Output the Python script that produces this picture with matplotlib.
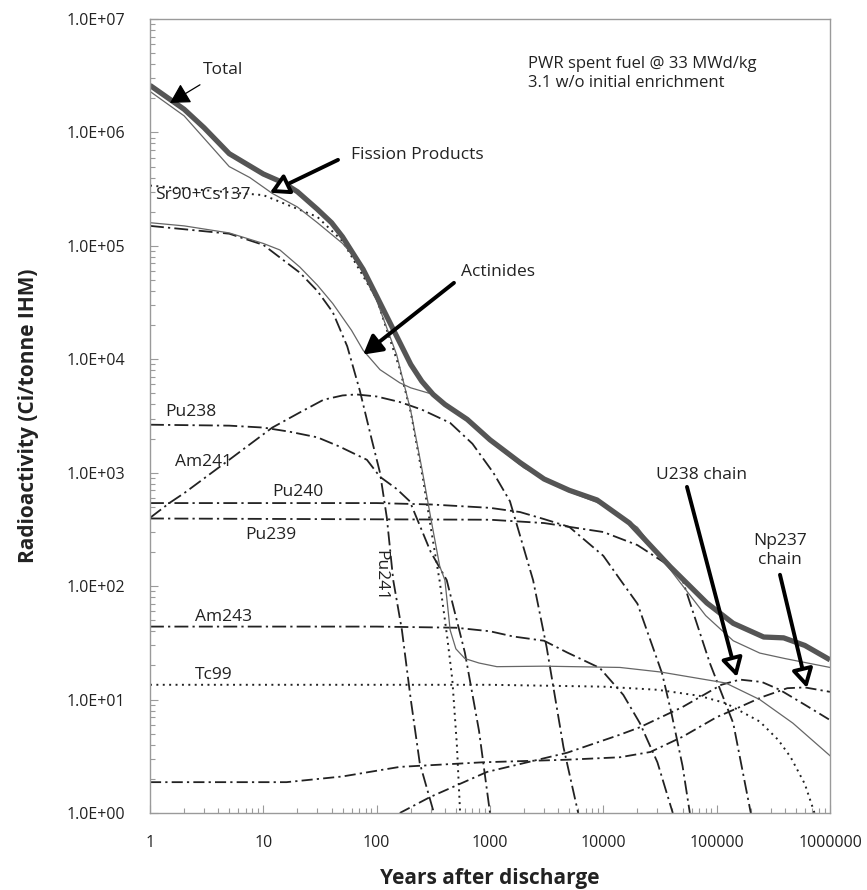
import matplotlib
matplotlib.use("Agg")
import matplotlib.pyplot as plt
from matplotlib.ticker import LogLocator, FixedLocator, FixedFormatter, NullFormatter

plt.rcParams['font.family'] = ['Open Sans', 'DejaVu Sans']
plt.rcParams['lines.scale_dashes'] = False

# ---------------- data (years, Ci/tonne IHM) ----------------
total_x = [1, 2, 3, 5, 10, 15, 20, 30, 40, 50, 76, 100, 150, 200, 250, 315, 400, 630,
           1000, 1840, 3000, 5000, 8800, 1.7e4, 3.9e4, 8.2e4, 1.4e5, 2.6e5, 3.9e5, 6e5, 1e6]
total_y = [2.6e6, 1.6e6, 1.1e6, 6.5e5, 4.3e5, 3.6e5, 3.0e5, 2.1e5, 1.6e5, 1.2e5, 6.2e4, 3.6e4,
           1.6e4, 9.0e3, 6.4e3, 4.9e3, 4.0e3, 2.95e3, 1.95e3, 1.23e3, 880, 700, 575, 360, 148, 71,
           47, 35.6, 35, 30, 22.4]

fp_x = [1, 2, 5, 7.6, 12, 20, 30, 50, 67, 100, 150, 200, 250, 300, 360, 400, 445, 500, 600,
        800, 1150, 3000, 1.4e4, 3.2e4, 1.2e5, 2.4e5, 4.7e5, 1e6]
fp_y = [2.3e6, 1.4e6, 5.0e5, 4.0e5, 2.9e5, 2.2e5, 1.6e5, 1.05e5, 7.5e4, 3.3e4, 1.1e4, 3.5e3,
        1.1e3, 400, 150, 113, 41, 28, 23, 21, 19.5, 19.7, 19.2, 17.5, 14, 10, 6.2, 3.2]

act_x = [1, 2, 5, 10, 14, 21, 30, 41, 60, 76, 107, 160, 200, 315, 630, 1000, 2000, 5000,
         1e4, 2e4, 4e4, 8e4, 1.4e5, 2.4e5, 4e5, 1e6]
act_y = [1.6e5, 1.5e5, 1.3e5, 1.05e5, 9.2e4, 6.5e4, 4.5e4, 3.1e4, 1.8e4, 1.2e4, 8.1e3, 6.2e3,
         5.6e3, 4.9e3, 2.9e3, 1.9e3, 1.1e3, 680, 520, 330, 135, 55, 33, 25.7, 23, 19.2]

srcs_x = [1, 10, 30, 50, 100, 160, 200, 257, 300, 360, 420, 465, 510, 545]
srcs_y = [3.4e5, 2.8e5, 1.8e5, 1.1e5, 3.4e4, 8.2e3, 3.4e3, 870, 330, 110, 35, 15, 4, 1.0]

pu241_x = [1, 5, 10, 21, 30, 41, 55, 71, 90, 107, 123, 140, 167, 200, 240, 320]
pu241_y = [1.5e5, 1.28e5, 1.02e5, 5.8e4, 4.0e4, 2.6e4, 1.3e4, 5.3e3, 2.0e3, 1.0e3, 400, 113,
           41, 10, 2.75, 1.0]

am241_x = [1, 1.5, 2, 5, 12, 21, 34, 50, 66, 100, 160, 250, 445, 700, 1070, 1500, 2400,
           3160, 4450, 6000]
am241_y = [400, 545, 660, 1300, 2500, 3400, 4400, 4800, 4900, 4700, 4200, 3600, 2750, 1800,
           1000, 560, 113, 29, 3.8, 1.0]

pu238_x = [1, 5, 10, 17, 30, 47, 82, 107, 150, 196, 300, 415, 600, 800, 1000]
pu238_y = [2650, 2600, 2500, 2300, 2050, 1700, 1300, 920, 720, 560, 200, 113, 26, 5.3, 1.0]

pu240_x = [1, 100, 300, 1000, 1840, 3000, 5000, 1e4, 1.4e4, 2e4, 3.3e4, 4e4, 5e4, 5.8e4]
pu240_y = [540, 540, 525, 490, 450, 390, 333, 185, 115, 70, 17, 7.5, 2.6, 1.0]

pu239_x = [1, 1000, 3000, 1e4, 2e4, 3.5e4, 5e4, 8.7e4, 1.4e5, 2e5]
pu239_y = [395, 385, 360, 300, 230, 160, 113, 21, 6.2, 1.0]

am243_x = [1, 100, 500, 1000, 1600, 3000, 4800, 9300, 1.5e4, 2.1e4, 3e4, 4.1e4]
am243_y = [44, 44, 43, 40, 36, 33, 26, 19, 11, 6.2, 2.8, 1.0]

tc99_x = [1, 1e3, 1e4, 3e4, 7e4, 1.2e5, 2.4e5, 3.5e5, 4.5e5, 6e5, 7.3e5]
tc99_y = [13.5, 13.5, 13.0, 12.2, 10.8, 9.3, 6.4, 4.4, 3.1, 1.8, 1.0]

np237_x = [1, 5, 16, 50, 160, 870, 4800, 1.4e4, 2.6e4, 5e4, 1e5, 1.4e5, 2.5e5, 4.2e5, 6e5, 1e6]
np237_y = [1.87, 1.87, 1.87, 2.1, 2.55, 2.8, 2.95, 3.1, 3.45, 4.7, 7.0, 8.1, 10.5, 12.6, 12.8, 11.7]

u238_x = [160, 295, 940, 4800, 1.4e4, 2.1e4, 5e4, 1.1e5, 1.6e5, 2.5e5, 3.6e5, 6e5, 1e6]
u238_y = [1.0, 1.38, 2.3, 3.4, 4.9, 5.7, 8.6, 13.5, 15, 14.3, 12.2, 9.0, 6.6]

y_tick_vals = [1, 10, 100, 1e3, 1e4, 1e5, 1e6, 1e7]
y_tick_labels = ["1.0E+00", "1.0E+01", "1.0E+02", "1.0E+03", "1.0E+04", "1.0E+05",
                 "1.0E+06", "1.0E+07"]
x_tick_vals = [1, 10, 100, 1000, 1e4, 1e5, 1e6]
x_tick_labels = ["1", "10", "100", "1000", "10000", "100000", "1000000"]

# ---------------- figure ----------------
fig = plt.figure(figsize=(8.67, 8.90), dpi=100)
ax = fig.add_axes([150/867, 1-813/890, 680/867, 794/890])
ax.set_xscale('log')
ax.set_yscale('log')
ax.set_xlim(1, 1e6)
ax.set_ylim(1, 1e7)

dk = '#222222'
dashdot = (0, (8, 3, 1.6, 3))
dashdot2 = (0, (10, 3, 1.6, 3))
dotted = (0, (1.4, 3.2))

ax.plot(np237_x, np237_y, color=dk, lw=1.3, ls=dashdot)
ax.plot(u238_x, u238_y, color=dk, lw=1.3, ls=dashdot)
ax.plot(tc99_x, tc99_y, color=dk, lw=1.4, ls=dotted)
ax.plot(am243_x, am243_y, color=dk, lw=1.3, ls=dashdot2)
ax.plot(pu239_x, pu239_y, color=dk, lw=1.3, ls=dashdot2)
ax.plot(pu240_x, pu240_y, color=dk, lw=1.3, ls=dashdot2)
ax.plot(pu238_x, pu238_y, color=dk, lw=1.3, ls=dashdot2)
ax.plot(am241_x, am241_y, color=dk, lw=1.3, ls=dashdot2)
ax.plot(pu241_x, pu241_y, color=dk, lw=1.3, ls=dashdot2)
ax.plot(srcs_x, srcs_y, color=dk, lw=1.4, ls=dotted)
ax.plot(act_x, act_y, color='#666666', lw=0.9)
ax.plot(fp_x, fp_y, color='#666666', lw=0.9)
ax.plot(total_x, total_y, color='#555555', lw=3.8, solid_capstyle='butt')

# axes styling
for s in ax.spines.values():
    s.set_color('#9a9a9a')
    s.set_linewidth(1.0)
ax.xaxis.set_major_locator(FixedLocator(x_tick_vals))
ax.xaxis.set_major_formatter(FixedFormatter(x_tick_labels))
ax.yaxis.set_major_locator(FixedLocator(y_tick_vals))
ax.yaxis.set_major_formatter(FixedFormatter(y_tick_labels))
ax.xaxis.set_minor_locator(LogLocator(base=10, subs=range(2, 10), numticks=20))
ax.yaxis.set_minor_locator(LogLocator(base=10, subs=range(2, 10), numticks=20))
ax.xaxis.set_minor_formatter(NullFormatter())
ax.yaxis.set_minor_formatter(NullFormatter())
ax.tick_params(which='both', direction='in', color='#9a9a9a', width=0.8,
               top=False, right=False, labelsize=11.5, labelcolor='#222222')
ax.tick_params(which='major', length=6)
ax.tick_params(which='minor', length=3.5)
ax.tick_params(axis='y', which='major', pad=18)
ax.tick_params(axis='x', which='major', pad=16)

ax.set_xlabel("Years after discharge", fontsize=15, fontweight='bold', labelpad=12,
              color='#222222')
ax.set_ylabel("Radioactivity (Ci/tonne IHM)", fontsize=15, fontweight='bold', labelpad=20,
              color='#222222')

# text labels
tc = '#222222'
fs = 12.5
ax.text(1.1, 2.8e5, "Sr90+Cs137", fontsize=fs, color=tc, va='center', ha='left')
ax.text(1.36, 3.4e3, "Pu238", fontsize=fs, color=tc, va='center', ha='left')
ax.text(1.66, 1.245e3, "Am241", fontsize=fs, color=tc, va='center', ha='left')
ax.text(11.9, 6.76e2, "Pu240", fontsize=fs, color=tc, va='center', ha='left')
ax.text(6.9, 2.82e2, "Pu239", fontsize=fs, color=tc, va='center', ha='left')
ax.text(2.5, 53.5, "Am243", fontsize=fs, color=tc, va='center', ha='left')
ax.text(2.5, 16.5, "Tc99", fontsize=fs, color=tc, va='center', ha='left')
ax.text(107, 123, "Pu241", fontsize=fs, color=tc, va='center', ha='center', rotation=-90)
ax.text(2160, 3.3e6, "PWR spent fuel @ 33 MWd/kg\n3.1 w/o initial enrichment",
        fontsize=12, color=tc, va='center', ha='left', linespacing=1.3)

# annotation texts
ax.text(4.4, 3.55e6, "Total", fontsize=fs, color=tc, ha='center', va='center')
ax.text(59, 6.3e5, "Fission Products", fontsize=fs, color=tc, ha='left', va='center')
ax.text(555, 5.9e4, "Actinides", fontsize=fs, color=tc, ha='left', va='center')
ax.text(7.3e4, 955, "U238 chain", fontsize=fs, color=tc, ha='center', va='center')
ax.text(3.6e5, 208, "Np237\nchain", fontsize=fs, color=tc, ha='center', va='center',
        linespacing=1.25)

# arrows (tip, tail)
def arrow(tip, tail, lw, filled, scale):
    ax.annotate("", xy=tip, xytext=tail,
                arrowprops=dict(arrowstyle='-|>,head_length=0.8,head_width=0.45',
                                ec='black', fc='black' if filled else 'white', lw=lw,
                                shrinkA=0, shrinkB=0, mutation_scale=scale))

arrow((1.5, 1.82e6), (2.76, 2.63e6), 0.9, True, 15)
arrow((11.4, 2.94e5), (45.6, 5.73e5), 2.8, False, 14)
arrow((76, 1.1e4), (481, 4.72e4), 2.8, True, 14)
arrow((1.51e5, 15.8), (5.47e4, 750), 2.8, False, 14)
arrow((6.27e5, 12.65), (3.62e5, 126), 2.8, False, 14)

fig.savefig("out.png", dpi=100)
